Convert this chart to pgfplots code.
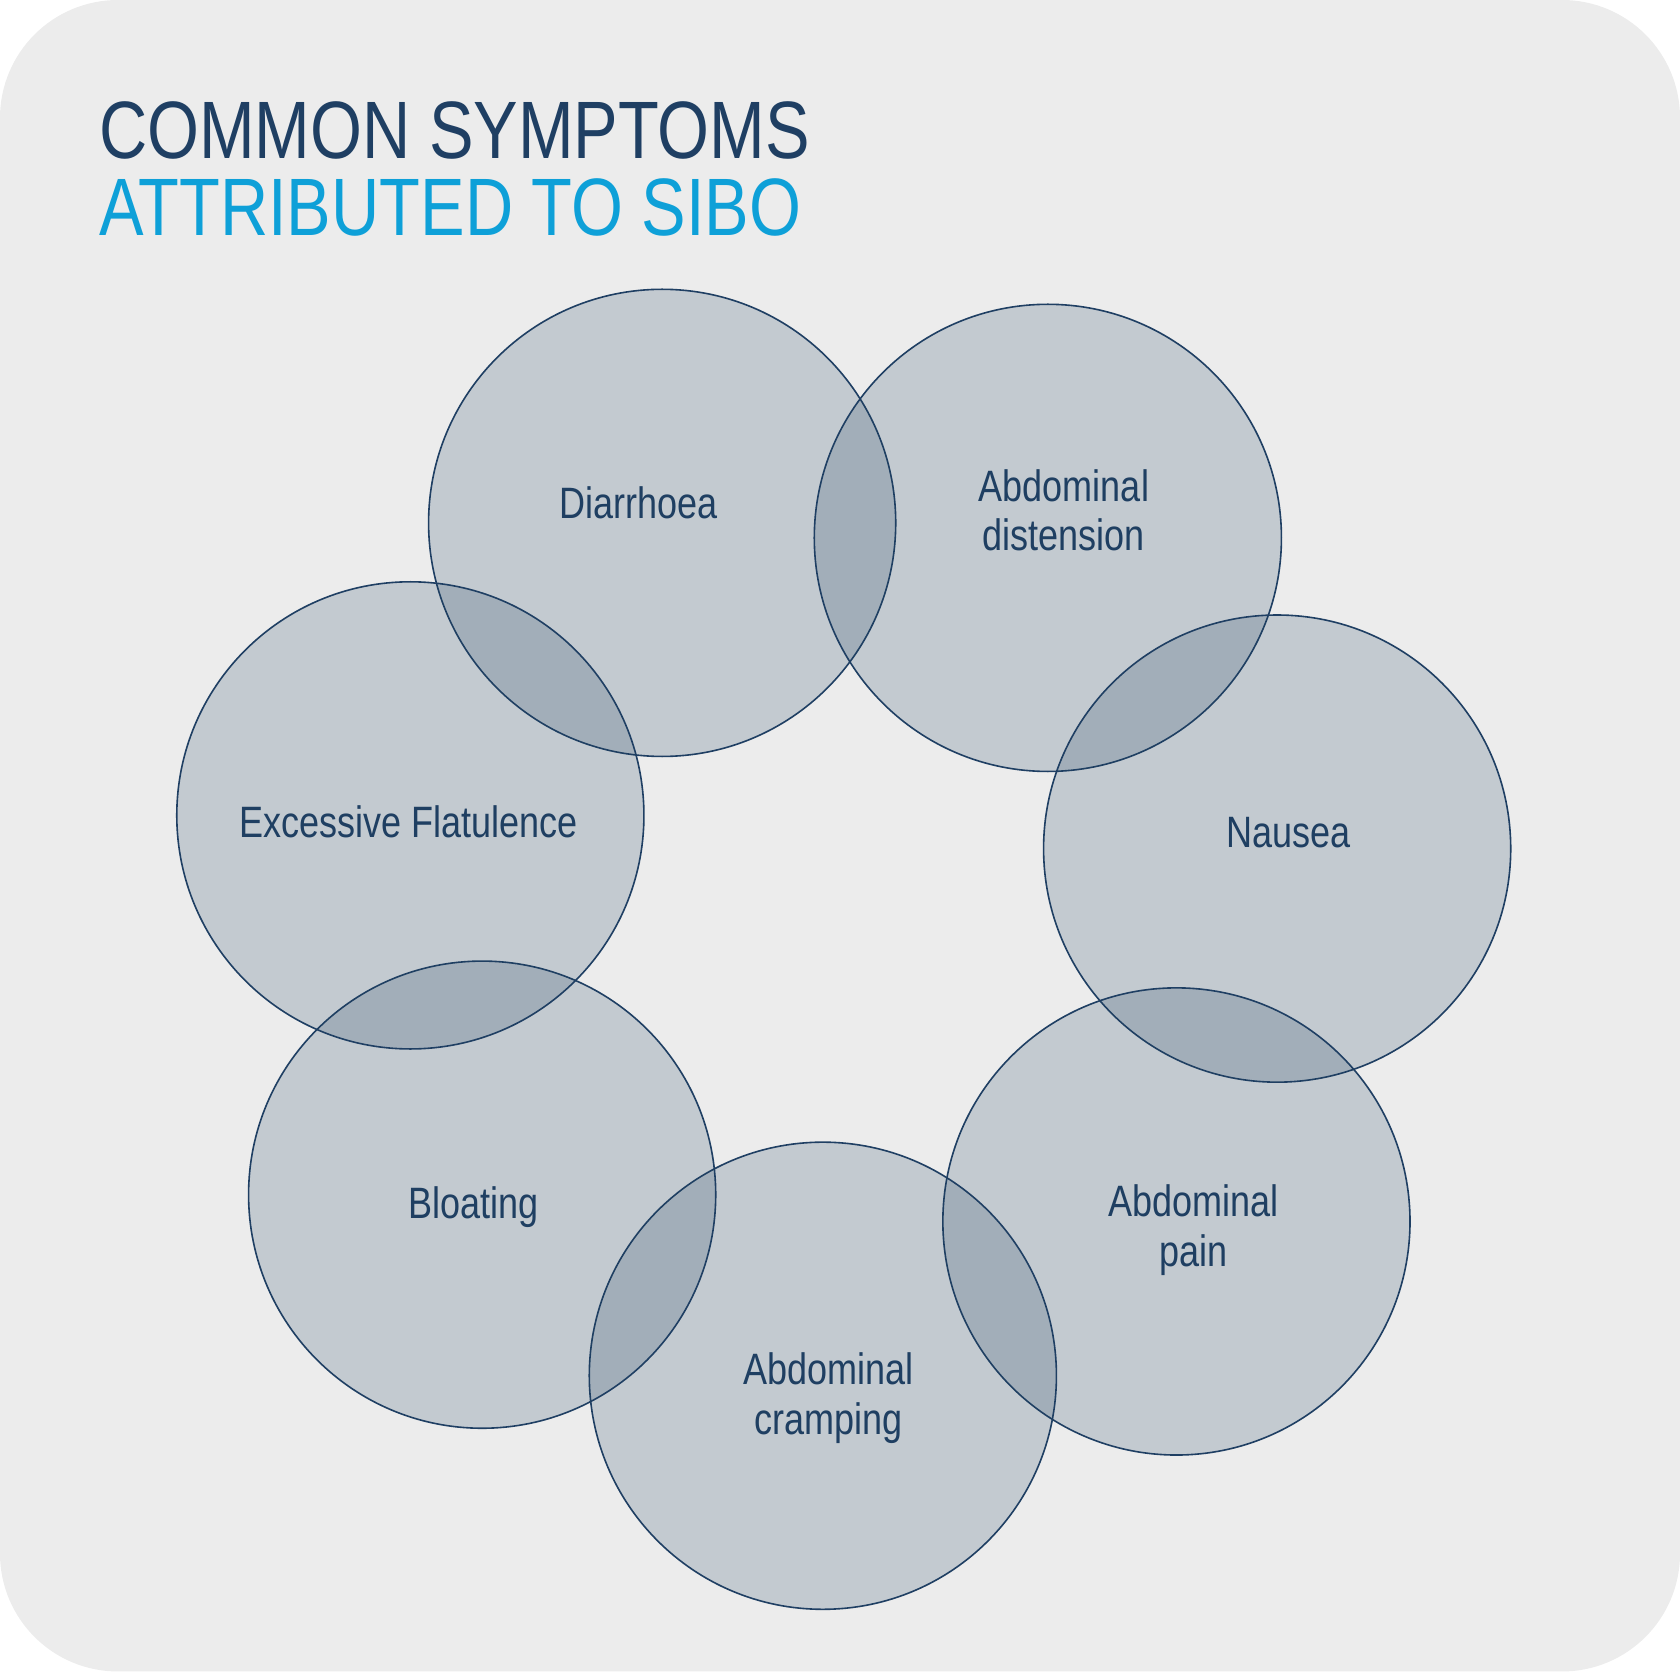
\documentclass[border=0pt]{standalone}
\usepackage{pgfplots}
\pgfplotsset{compat=1.18}
\usepackage{fontspec}
\setmainfont[FakeStretch=0.82]{Liberation Sans}
\definecolor{navy}{RGB}{31,63,99}
\definecolor{cyanT}{RGB}{14,160,216}
\definecolor{fillc}{RGB}{31,66,96}
\definecolor{bg}{RGB}{236,236,236}
\begin{document}
\begin{tikzpicture}
\begin{axis}[scale only axis, width=784pt, height=780pt,
  xmin=0, xmax=1568, ymin=0, ymax=1560, y dir=reverse,
  hide axis, clip=false]
\fill[bg, rounded corners=55pt] (rel axis cs:0,0) rectangle (rel axis cs:1,1);
\addplot[only marks, mark=*, mark size=109pt,
  mark options={draw=navy, line width=0.75pt, fill=fillc, fill opacity=0.2, draw opacity=1}]
  coordinates {(618,488) (978,502) (1192,792) (1098,1140) (768,1284) (450,1115) (383,761)};
\node[anchor=base west, text=navy, font=\fontsize{38}{40}\selectfont, inner sep=0] at (axis cs:92,148) {COMMON SYMPTOMS};
\node[anchor=base west, text=cyanT, font=\fontsize{38}{40}\selectfont, inner sep=0] at (axis cs:92,220) {ATTRIBUTED TO SIBO};
\begin{scope}[every node/.style={text=navy, font=\fontsize{20.5}{23}\selectfont, align=center}]
\node at (axis cs:596,469) {Diarrhoea};
\node at (axis cs:993,476) {Abdominal\\distension};
\node at (axis cs:1203,777) {Nausea};
\node at (axis cs:1114,1148) {Abdominal\\pain};
\node at (axis cs:773,1305) {Abdominal\\cramping};
\node at (axis cs:442,1127) {Bloating};
\node at (axis cs:381,767) {Excessive Flatulence};
\end{scope}
\end{axis}
\end{tikzpicture}
\end{document}
